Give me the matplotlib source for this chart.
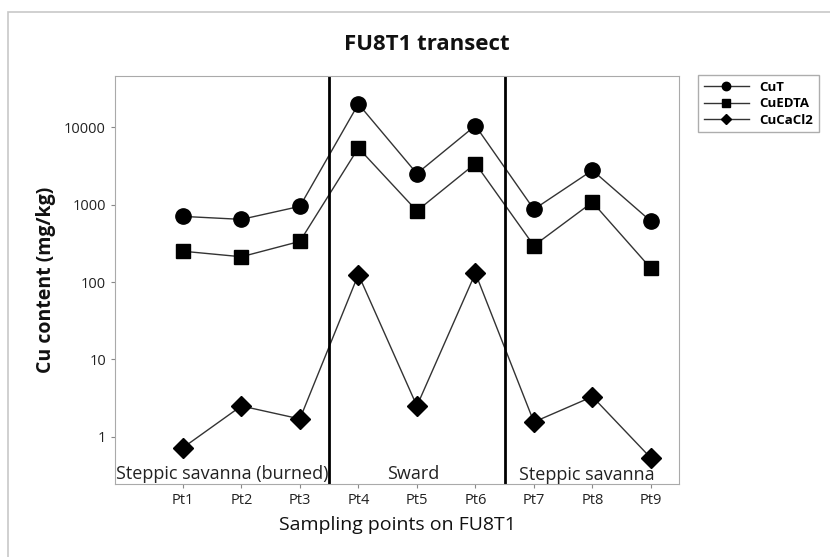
import matplotlib
matplotlib.use("Agg")
import matplotlib.pyplot as plt
from matplotlib.patches import Rectangle

plt.rcParams["font.family"] = ["Open Sans", "DejaVu Sans"]

points = ["Pt1", "Pt2", "Pt3", "Pt4", "Pt5", "Pt6", "Pt7", "Pt8", "Pt9"]
cut = [705, 645, 950, 20000, 2520, 10500, 870, 2780, 610]
cuedta = [250, 212, 335, 5400, 830, 3400, 295, 1075, 150]
cucacl2 = [0.72, 2.5, 1.7, 125, 2.5, 130, 1.55, 3.3, 0.53]
zones = ["Steppic savanna (burned)", "Sward", "Steppic savanna"]
yticks = [1, 10, 100, 1000, 10000]

fig = plt.figure(figsize=(8.3, 5.57), dpi=100)
ax = fig.add_axes([115 / 830, 1 - 484 / 557, (679 - 115) / 830, (484 - 76) / 557])

# light outer frame of the graph window (only left/top edges visible)
fig.patches.append(Rectangle((8 / 830, -0.1), 1.2, 1.1 - 12 / 557, transform=fig.transFigure,
                             fill=False, edgecolor="#c8c8c8", linewidth=1.2))

x = list(range(1, len(points) + 1))
ax.plot(x, cut, color="#333333", lw=1, marker="o", ms=11, mfc="black", mec="black", label="CuT")
ax.plot(x, cuedta, color="#333333", lw=1, marker="s", ms=10, mfc="black", mec="black", label="CuEDTA")
ax.plot(x, cucacl2, color="#333333", lw=1, marker="D", ms=10, mfc="black", mec="black", label="CuCaCl2")

ax.axvline(3.5, color="black", lw=2)
ax.axvline(6.5, color="black", lw=2)

ax.set_yscale("log")
ax.set_ylim(0.245, 46000)
ax.set_xlim(-0.16, 9.48)
ax.set_yticks(yticks)
ax.set_yticklabels([str(v) for v in yticks])
ax.minorticks_off()
ax.set_xticks(x)
ax.set_xticklabels(points)
ax.tick_params(labelsize=10.5, length=3, color="#888888", labelcolor="#222222")

for s in ax.spines.values():
    s.set_color("#aaaaaa")

ax.text(-0.14, 0.33, zones[0], fontsize=13, ha="left", va="center", color="#222222")
ax.text(4.93, 0.33, zones[1], fontsize=13, ha="center", va="center", color="#222222")
ax.text(7.9, 0.32, zones[2], fontsize=13, ha="center", va="center", color="#222222")

fig.text(427 / 830, 1 - 45 / 557, "FU8T1 transect", fontsize=16, fontweight="bold",
         ha="center", va="center", color="#111111")
ax.set_xlabel("Sampling points on FU8T1", fontsize=14, labelpad=6, color="#111111")
ax.set_ylabel("Cu content (mg/kg)", fontsize=14, fontweight="bold", labelpad=6, color="#111111")

leg = ax.legend(loc="upper left", bbox_to_anchor=(698 / 830, 1 - 75 / 557),
                bbox_transform=fig.transFigure, fontsize=9.5, markerscale=0.55,
                fancybox=False, edgecolor="#999999", handlelength=3.4,
                borderpad=0.45, labelspacing=0.25, borderaxespad=0)
for t in leg.get_texts():
    t.set_fontweight("bold")

fig.savefig("out.png", dpi=100)
